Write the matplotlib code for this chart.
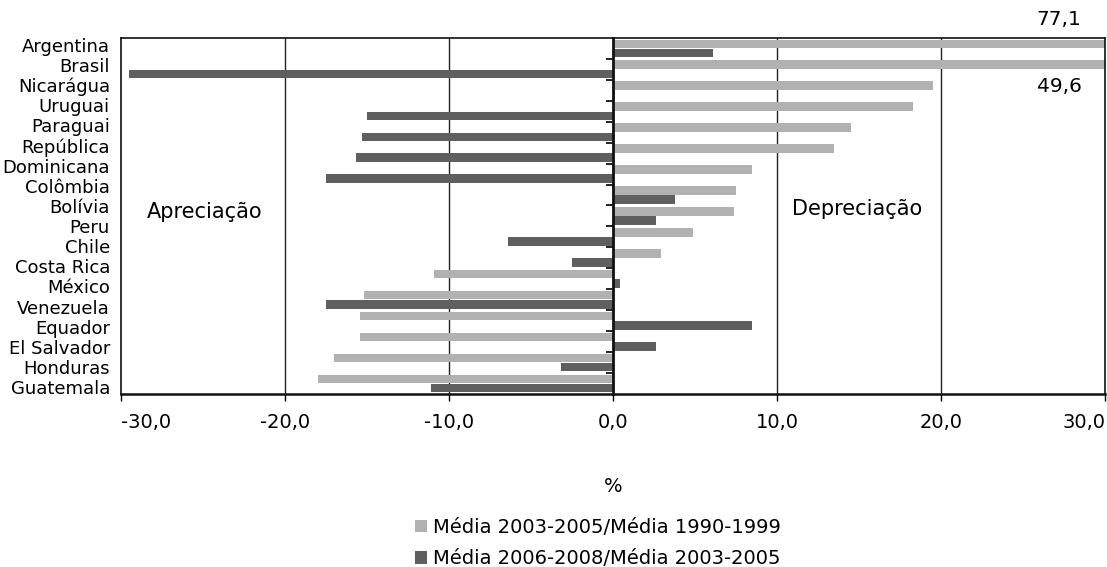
import numpy as np
import matplotlib
matplotlib.use("Agg")
import matplotlib.pyplot as plt
from matplotlib.patches import Patch
from matplotlib.ticker import FuncFormatter, FixedLocator

plt.rcParams['font.family'] = ['DejaVu Sans']

countries = ["Argentina", "Brasil", "Nicarágua", "Uruguai", "Paraguai",
             "República\nDominicana", "Colômbia", "Bolívia", "Peru", "Chile",
             "Costa Rica", "México", "Venezuela", "Equador", "El Salvador",
             "Honduras", "Guatemala"]
media_03_05 = [77.1, 49.6, 19.5, 18.3, 14.5, 13.5, 8.5, 7.5, 7.4, 4.9,
               2.9, -10.9, -15.2, -15.4, -15.4, -17.0, -18.0]
media_06_08 = [6.1, -29.5, 0.1, -15.0, -15.3, -15.7, -17.5, 3.8, 2.6, -6.4,
               -2.5, 0.4, -17.5, 8.5, 2.6, -3.2, -11.1]
labels_series = ["Média 2003-2005/Média 1990-1999",
                 "Média 2006-2008/Média 2003-2005"]
x_ticks = [-30, -20, -10, 0, 10, 20, 30]
light = "#b1b1b1"
dark = "#5f5f5f"


def fmt(v):
    return f"{v:.1f}".replace(".", ",")


fig = plt.figure(figsize=(11.07, 5.67), dpi=100)
ax = fig.add_axes([0.1093, 0.3051, 0.8889, 0.628])

y = np.arange(len(countries))
h = 0.41
ax.barh(y - 0.22, media_03_05, height=h, color=light, zorder=2)
ax.barh(y + 0.22, media_06_08, height=h, color=dark, zorder=2)

ax.set_xlim(-30, 30)
ax.set_ylim(len(countries) - 0.5, -0.5)

# category names are spread evenly, one line each, down the axis
label_lines = [ln for c in countries for ln in c.split("\n")]
label_pos = np.linspace(-0.17, 16.17, len(label_lines))
ax.set_yticks(label_pos)
ax.set_yticklabels(label_lines, fontsize=13)
ax.tick_params(axis='y', length=0, pad=8)

ax.xaxis.set_major_locator(FixedLocator(x_ticks))
ax.xaxis.set_major_formatter(FuncFormatter(lambda v, p: fmt(v)))
ax.tick_params(axis='x', direction='out', length=5, width=1, labelsize=14, pad=9)
xt = ax.get_xticklabels()
xt[0].set_horizontalalignment('left')
xt[-1].set_horizontalalignment('right')

for v in [-20, -10, 10, 20]:
    ax.axvline(v, color="#222222", lw=1, zorder=1)

for s in ax.spines.values():
    s.set_color("#111111")
    s.set_linewidth(1.2)
ax.spines['bottom'].set_linewidth(1.8)

# category axis crossing at zero, drawn over the bars
zero_ax = ax.secondary_yaxis(0.5)
zero_ax.set_zorder(5)
zero_ax.set_yticks(np.arange(len(countries) - 1) + 0.5)
zero_ax.set_yticklabels([])
zero_ax.tick_params(direction='in', length=5, width=1.3, color="#111111")
zero_ax.spines['right'].set_linewidth(2)
zero_ax.spines['right'].set_color("#111111")

# values of the bars cut off by the axis limit
ax.text(27.2, -1.4, fmt(media_03_05[0]), fontsize=14.5, ha='center', va='center', clip_on=False)
ax.text(27.2, 1.8, fmt(media_03_05[1]), fontsize=14.5, ha='center', va='center')

ax.text(-24.9, 7.8, "Apreciação", fontsize=15, ha='center', va='center')
ax.text(14.9, 7.65, "Depreciação", fontsize=15, ha='center', va='center')

ax.set_xlabel("%", fontsize=14, labelpad=32)

handles = [Patch(facecolor=light, edgecolor='none'), Patch(facecolor=dark, edgecolor='none')]
fig.legend(handles, labels_series, loc='upper left', bbox_to_anchor=(415 / 1107, 1 - 518 / 567),
           frameon=False, fontsize=14, handlelength=0.62, handleheight=0.62,
           handletextpad=0.3, labelspacing=0.62, borderpad=0, borderaxespad=0)

fig.savefig("out.png", dpi=100)
